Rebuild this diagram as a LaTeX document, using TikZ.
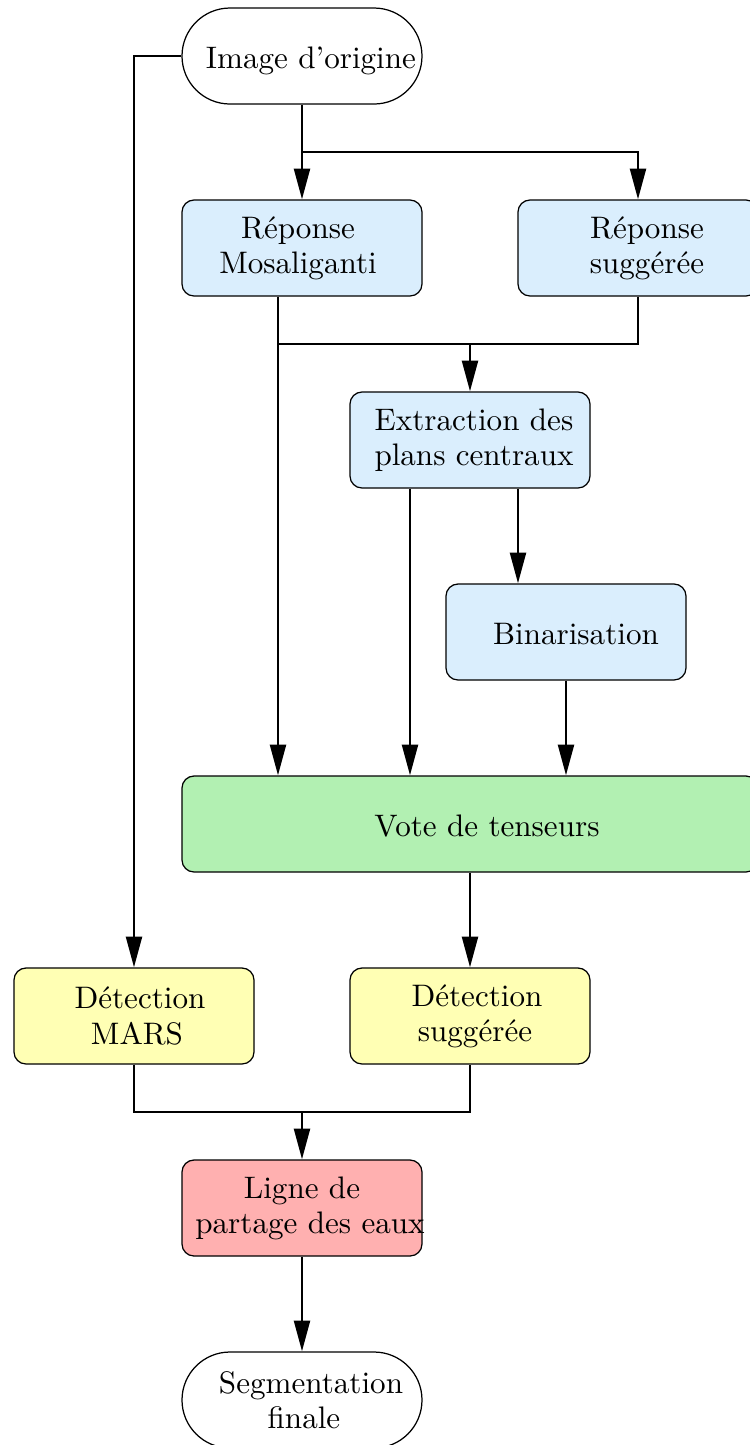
\documentclass[tikz,border=0pt]{standalone}
\usepackage{fontspec}
\usetikzlibrary{arrows.meta}
\newlength\pxu
\setlength\pxu{0.3215pt}
\newcommand\tln[2]{\makebox[0pt]{\hspace*{#1\pxu}#2\hspace*{-#1\pxu}}}
\definecolor{cblue}{RGB}{218,238,253}
\definecolor{cgreen}{RGB}{178,240,178}
\definecolor{cyellow}{RGB}{255,255,180}
\definecolor{cred}{RGB}{255,176,176}
\tikzset{
  base/.style={draw=black, line width=0.4pt, minimum width=240\pxu, minimum height=96\pxu,
    inner xsep=0pt, inner ysep=0pt, align=center, font=\fontsize{10pt}{11.3pt}\selectfont},
  proc/.style={base, rectangle, rounded corners=12\pxu},
  term/.style={base, rectangle, rounded corners=48\pxu, fill=white},
  oneline/.style={text height=8.8pt, text depth=0.6pt},
  conn/.style={line width=0.9pt, -{Triangle[length=9.9pt,width=5.1pt]}},
  wire/.style={line width=0.9pt},
}
\begin{document}
\begin{tikzpicture}[x=\pxu, y=-\pxu]
\useasboundingbox (0,0) rectangle (749,1445);
% nodes
\node[term, oneline] (img) at (302,56) {\tln{9}{Image d’origine}};
\node[proc, fill=cblue] (rmos) at (302,248) {\tln{-4}{Réponse}\\\tln{-4}{Mosaliganti}};
\node[proc, fill=cblue] (rsug) at (638,248) {\tln{9}{Réponse}\\\tln{9}{suggérée}};
\node[proc, fill=cblue] (extr) at (470,440) {\tln{4}{Extraction des}\\\tln{4}{plans centraux}};
\node[proc, fill=cblue, oneline] (bin) at (566,632) {\tln{10}{Binarisation}};
\node[proc, fill=cgreen, oneline, minimum width=576\pxu] (vote) at (470,824) {\tln{17}{Vote de tenseurs}};
\node[proc, fill=cyellow] (mars) at (134,1016) {\tln{6}{Détection}\\\tln{3}{MARS}};
\node[proc, fill=cyellow] (dsug) at (470,1016) {\tln{7}{Détection}\\\tln{5}{suggérée}};
\node[proc, fill=cred] (ligne) at (302,1208) {\tln{0}{Ligne de}\\\tln{8}{partage des eaux}};
\node[term] (seg) at (302,1400) {\tln{9}{Segmentation}\\\tln{2}{finale}};
% helper coordinates
\coordinate (b1) at (302,152);
\coordinate (mosout) at ([xshift=-24\pxu]rmos.south);
\coordinate (j2) at (470,344);
\coordinate (exl) at ([xshift=-60\pxu]extr.south);
\coordinate (exr) at ([xshift=48\pxu]extr.south);
\coordinate (j3) at (302,1112);
% connectors
\draw[conn] (img.west) -| (mars.north);
\draw[conn] (img.south) -- (rmos.north);
\draw[conn] (b1) -| (rsug.north);
\draw[conn] (mosout) -- (mosout |- vote.north);
\draw[wire] (rsug.south) |- (mosout |- j2);
\draw[conn] (j2) -- (extr.north);
\draw[conn] (exl) -- (exl |- vote.north);
\draw[conn] (exr) -- (exr |- bin.north);
\draw[conn] (bin.south) -- (bin.south |- vote.north);
\draw[conn] (vote.south) -- (dsug.north);
\draw[wire] (mars.south) |- (j3) -| (dsug.south);
\draw[conn] (j3) -- (ligne.north);
\draw[conn] (ligne.south) -- (seg.north);
\end{tikzpicture}
\end{document}
